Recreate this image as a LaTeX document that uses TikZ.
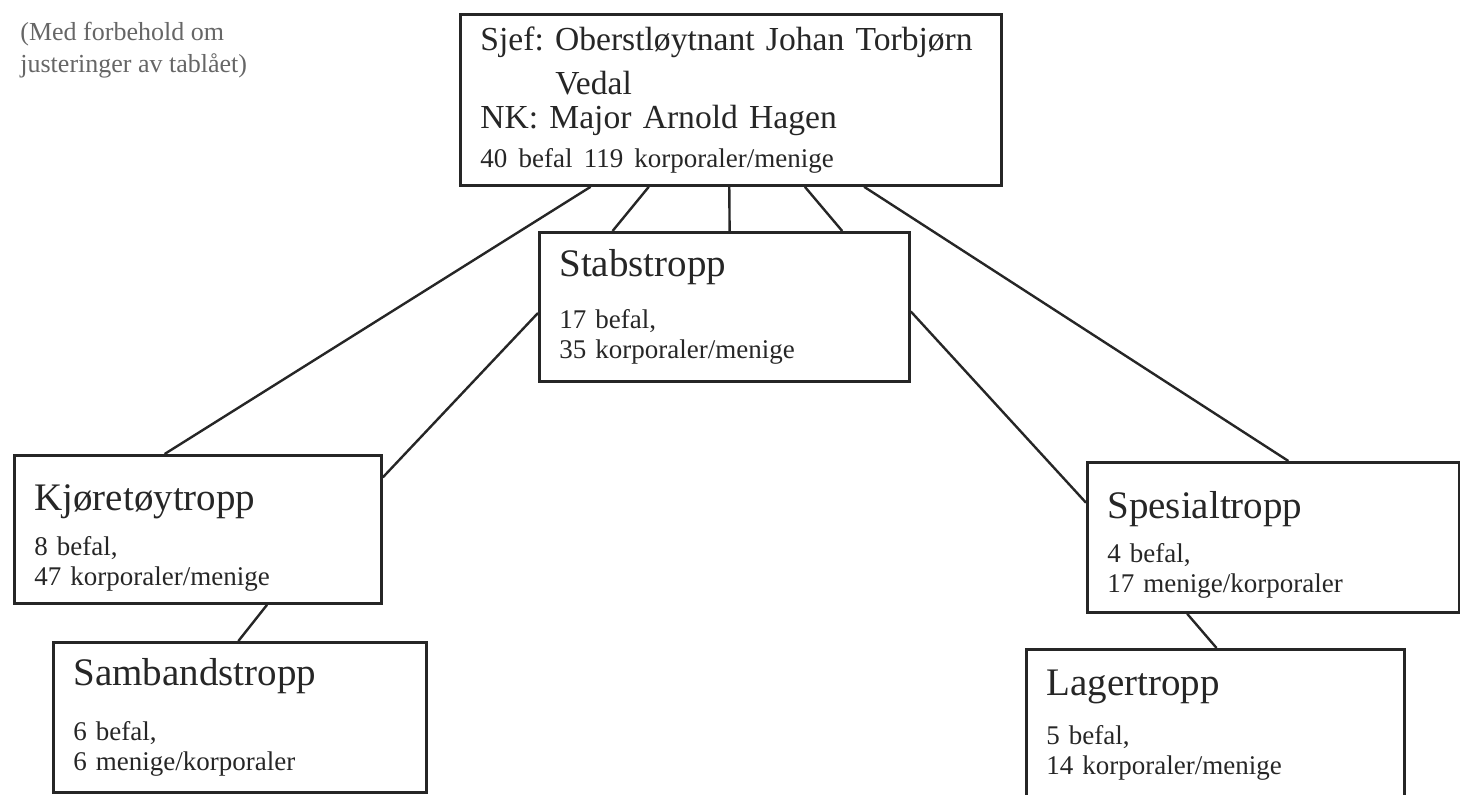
\documentclass[tikz,border=0pt]{standalone}
\usepackage{fontspec}
\setmainfont{Liberation Serif}
\usepackage{tikz}
\usetikzlibrary{calc}

\newcommand{\tropp}[1]{{\fontsize{19.5}{20}\selectfont #1}}

\begin{document}
\frenchspacing
\begin{tikzpicture}[x=0.5pt,y=-0.5pt,
	troppboks/.style={draw=black!85, line width=1.4pt, anchor=north west,
		align=left, inner xsep=10pt, inner ysep=2pt, text=black!85,
		font=\fontsize{13.5}{15}\selectfont},
	link/.style={draw=black!85, line width=1.2pt}]
	\useasboundingbox (0,0) rectangle (1460,794);
	\node (0) [anchor=north west, align=left, inner sep=0pt, text=black!60,
		font=\fontsize{13}{16}\selectfont] at (20,22)
		{(Med forbehold om\\justeringer av tablået)};
	\node (1) [troppboks, text width=250.5pt, minimum height=85.5pt,
		font=\fontsize{16.8}{17}\selectfont] at (459,13)
		{\mbox{Sjef: Oberstløytnant Johan Torbjørn}\\[5pt]
		\hspace*{37.5pt}Vedal\\
		NK: Major Arnold Hagen\\[2.5pt]
		{\fontsize{13.5}{15}\selectfont 40 befal 119 korporaler/menige}};
	\node (2) [troppboks, text width=165pt, minimum height=74.5pt] at (538,231)
		{\tropp{Stabstropp}\\[11pt]
		17 befal,\\
		35 korporaler/menige};
	\node (3) [troppboks, text width=163.5pt, minimum height=74pt] at (13,454)
		{\rule{0pt}{21pt}\tropp{Kjøretøytropp}\\[7.5pt]
		8 befal,\\
		47 korporaler/menige};
	\node (4) [troppboks, text width=166.5pt, minimum height=75pt] at (52,641)
		{\tropp{Sambandstropp}\\[12.5pt]
		6 befal,\\
		6 menige/korporaler};
	\node (5) [troppboks, text width=166pt, minimum height=75pt] at (1086,461)
		{\rule{0pt}{21pt}\tropp{Spesialtropp}\\[7pt]
		4 befal,\\
		17 menige/korporaler};
	\node (6) [troppboks, text width=169pt, minimum height=76pt] at (1025,648)
		{\tropp{Lagertropp}\\[9.5pt]
		5 befal,\\
		14 korporaler/menige};
	% fra sjef
	\draw [ link ] ($(1.south west)!0.242!(1.south east)$) to ($(3.north west)!0.41!(3.north east)$);
	\draw [ link ] ($(1.south west)!0.349!(1.south east)$) to ($(2.north west)!0.2!(2.north east)$);
	\draw [ link ] ($(1.south west)!0.497!(1.south east)$) to ($(2.north west)!0.514!(2.north east)$);
	\draw [ link ] ($(1.south west)!0.636!(1.south east)$) to ($(2.north west)!0.816!(2.north east)$);
	\draw [ link ] ($(1.south west)!0.745!(1.south east)$) to ($(5.north west)!0.54!(5.north east)$);
	% fra stabstropp
	\draw [ link ] ($(2.north west)!0.54!(2.south west)$) to ($(3.north east)!0.155!(3.south east)$);
	\draw [ link ] ($(2.north east)!0.53!(2.south east)$) to ($(5.north west)!0.273!(5.south west)$);
	% undertropper
	\draw [ link ] ($(3.south west)!0.687!(3.south east)$) to ($(4.north west)!0.496!(4.north east)$);
	\draw [ link ] ($(5.south west)!0.27!(5.south east)$) to ($(6.north west)!0.503!(6.north east)$);
\end{tikzpicture}
\end{document}
